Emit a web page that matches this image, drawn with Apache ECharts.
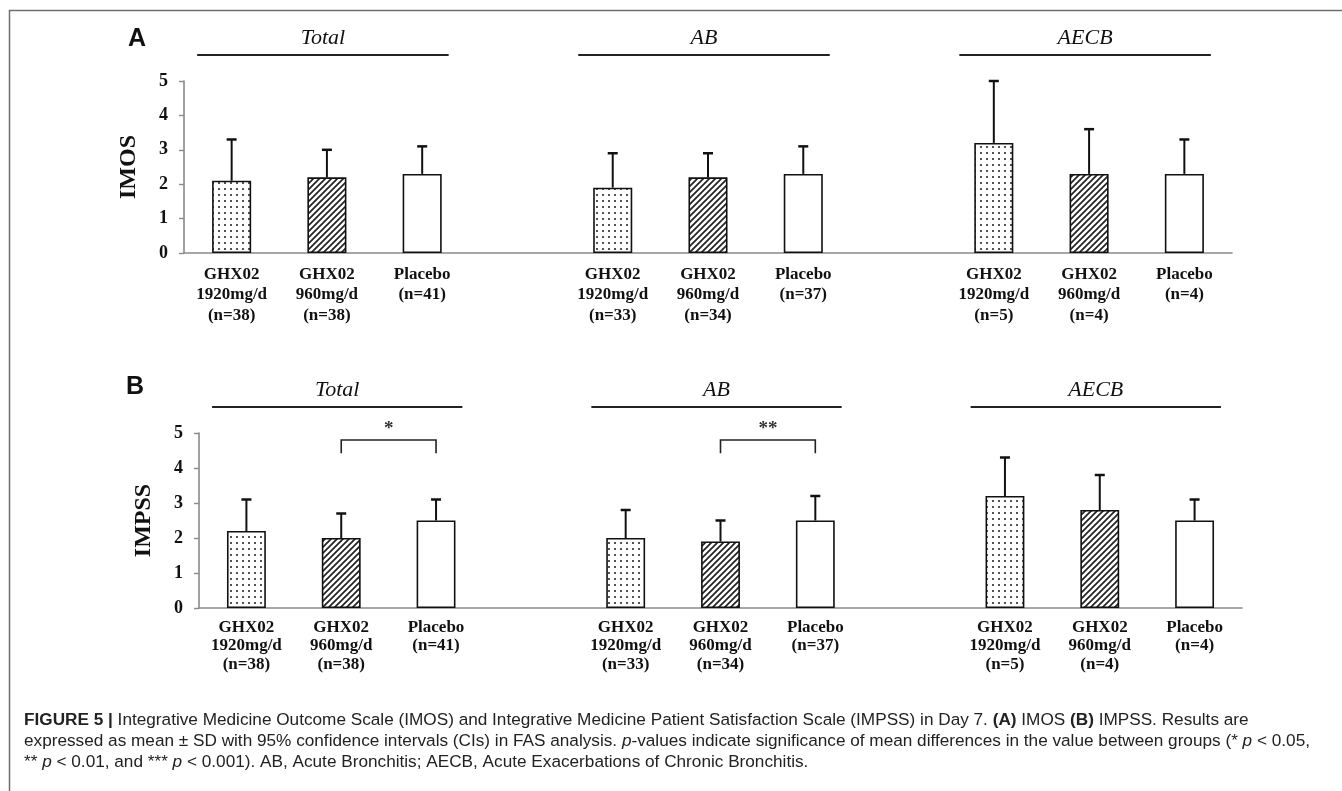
<!DOCTYPE html>
<html>
<head>
<meta charset="utf-8">
<script src="https://cdn.jsdelivr.net/npm/echarts@6/dist/echarts.min.js"></script>
<style>
  html, body { margin: 0; padding: 0; background: #fff; }
  #chart { width: 1342px; height: 791px; }
</style>
</head>
<body>
<div id="chart"></div>
<script>
// groups and arms, in drawing order
const groupNames = ['Total', 'AB', 'AECB']
const armNames = ['GHX02\n1920mg/d', 'GHX02\n960mg/d', 'Placebo']
const groupN = [
  [38, 38, 41],
  [33, 34, 37],
  [5, 4, 4]
]

// mean and SD, ordered Total(1920, 960, placebo), AB(...), AECB(...)
const imosMean = [2.1, 2.2, 2.3, 1.9, 2.2, 2.3, 3.2, 2.3, 2.3]
const imosSD = [1.2, 0.8, 0.8, 1.0, 0.7, 0.8, 1.8, 1.3, 1.0]
const impssMean = [2.2, 2.0, 2.5, 2.0, 1.9, 2.5, 3.2, 2.8, 2.5]
const impssSD = [0.9, 0.7, 0.6, 0.8, 0.6, 0.7, 1.1, 1.0, 0.6]

// significance brackets in panel B: [group, armFrom, armTo, label]
const impssSig = [
  [0, 1, 2, '*'],
  [1, 1, 2, '**']
]

const yTicks = [0, 1, 2, 3, 4, 5]

const SERIF = '"Liberation Serif", "Times New Roman", serif'
const SANS = '"Liberation Sans", Arial, sans-serif'

// each group takes 3 slots plus one empty slot between groups
const slotOf = (g, a) => g * 4 + a
const slotCount = groupNames.length * 4 - 1

function categoryLabels() {
  const out = []
  for (let i = 0; i < slotCount; i++) out.push('')
  groupNames.forEach((_, g) => {
    armNames.forEach((arm, a) => {
      out[slotOf(g, a)] = arm + '\n(n=' + groupN[g][a] + ')'
    })
  })
  return out
}

function makeDots() {
  const c = document.createElement('canvas')
  c.width = 6
  c.height = 6
  const ctx = c.getContext('2d')
  ctx.fillStyle = '#fff'
  ctx.fillRect(0, 0, 6, 6)
  ctx.fillStyle = '#1a1a1a'
  ctx.beginPath()
  ctx.arc(3, 3, 1.0, 0, Math.PI * 2)
  ctx.fill()
  return c
}

function makeHatch() {
  const c = document.createElement('canvas')
  c.width = 6
  c.height = 6
  const ctx = c.getContext('2d')
  ctx.fillStyle = '#fff'
  ctx.fillRect(0, 0, 6, 6)
  ctx.strokeStyle = '#222'
  ctx.lineWidth = 1.7
  ctx.beginPath()
  ctx.moveTo(-1, 7)
  ctx.lineTo(7, -1)
  ctx.moveTo(-1, 1)
  ctx.lineTo(1, -1)
  ctx.moveTo(5, 7)
  ctx.lineTo(7, 5)
  ctx.stroke()
  return c
}

const armFills = [
  { image: makeDots(), repeat: 'repeat' },
  { image: makeHatch(), repeat: 'repeat' },
  '#fff'
]

function barData(means) {
  const out = []
  for (let i = 0; i < slotCount; i++) out.push('-')
  groupNames.forEach((_, g) => {
    armNames.forEach((__, a) => {
      out[slotOf(g, a)] = {
        value: means[g * 3 + a],
        itemStyle: { color: armFills[a] }
      }
    })
  })
  return out
}

function errData(means, sds) {
  const out = []
  groupNames.forEach((_, g) => {
    armNames.forEach((__, a) => {
      const i = g * 3 + a
      out.push([slotOf(g, a), means[i], +(means[i] + sds[i]).toFixed(2)])
    })
  })
  return out
}

function renderErr(params, api) {
  const base = api.coord([api.value(0), api.value(1)])
  const top = api.coord([api.value(0), api.value(2)])
  const cap = 5
  return {
    type: 'group',
    children: [
      { type: 'line', shape: { x1: base[0], y1: base[1], x2: top[0], y2: top[1] }, style: { stroke: '#111', lineWidth: 2 } },
      { type: 'line', shape: { x1: top[0] - cap, y1: top[1], x2: top[0] + cap, y2: top[1] }, style: { stroke: '#111', lineWidth: 2.5 } }
    ]
  }
}

// group header: italic name with a rule under it, above the plot
function renderHeader(params, api) {
  const mid = api.coord([api.value(0), 0])
  const catW = api.size([1, 0])[0]
  const top = params.coordSys.y
  const half = catW * 1.32
  const cx = mid[0] - 4
  return {
    type: 'group',
    children: [
      { type: 'line', shape: { x1: cx - half, y1: top - 26, x2: cx + half, y2: top - 26 }, style: { stroke: '#222', lineWidth: 2 } },
      {
        type: 'text',
        style: {
          text: groupNames[api.value(1)], x: cx, y: top - 43,
          align: 'center', verticalAlign: 'middle',
          font: 'italic 22px ' + SERIF, fill: '#111'
        }
      }
    ]
  }
}

function renderBracket(params, api) {
  const l = api.coord([api.value(0), 4.8])
  const r = api.coord([api.value(1), 4.8])
  const legs = api.coord([api.value(0), 4.42])
  const star = api.coord([api.value(0), 5.1])
  const d = impssSig[params.dataIndex]
  return {
    type: 'group',
    children: [
      {
        type: 'polyline',
        shape: { points: [[l[0], legs[1]], [l[0], l[1]], [r[0], r[1]], [r[0], legs[1]]] },
        style: { stroke: '#222', lineWidth: 1.6, fill: null }
      },
      {
        type: 'text',
        style: {
          text: d[3], x: (l[0] + r[0]) / 2, y: star[1],
          align: 'center', verticalAlign: 'middle',
          font: 'bold 19px ' + SERIF, fill: '#333'
        }
      }
    ]
  }
}

const headerData = groupNames.map((_, g) => [slotOf(g, 1), g])
const bracketData = impssSig.map((s) => [slotOf(s[0], s[1]), slotOf(s[0], s[2])])

function xAxisFor(gridIndex, margin, lineHeight) {
  return {
    type: 'category',
    gridIndex,
    data: categoryLabels(),
    axisLine: { lineStyle: { color: '#8a8a8a', width: 1.6 } },
    axisTick: { interval: 0, length: 5, lineStyle: { color: '#8a8a8a', width: 1.4 } },
    axisLabel: {
      interval: 0,
      margin,
      color: '#111',
      fontFamily: SERIF,
      fontWeight: 'bold',
      fontSize: 17,
      lineHeight
    }
  }
}

function yAxisFor(gridIndex, name) {
  return {
    type: 'value',
    gridIndex,
    min: yTicks[0],
    max: yTicks[yTicks.length - 1],
    interval: 1,
    name,
    nameLocation: 'middle',
    nameGap: 43,
    nameRotate: 90,
    nameTextStyle: { fontFamily: SERIF, fontWeight: 'bold', fontSize: 24, color: '#111' },
    splitLine: { show: false },
    axisLine: { show: true, lineStyle: { color: '#8a8a8a', width: 1.6 } },
    axisTick: { show: true, length: 5, lineStyle: { color: '#8a8a8a', width: 1.4 } },
    axisLabel: { margin: 16, color: '#111', fontFamily: SERIF, fontWeight: 'bold', fontSize: 18 }
  }
}

const CAP_SIZE = 17.2
const captionStyles = {
  b: { fontWeight: 'bold', fontFamily: SANS, fontSize: CAP_SIZE, fill: '#222' },
  i: { fontStyle: 'italic', fontFamily: SANS, fontSize: CAP_SIZE, fill: '#222' }
}

function captionLine(text, y) {
  return {
    type: 'text',
    left: 24,
    top: y,
    style: {
      text,
      font: CAP_SIZE + 'px ' + SANS,
      fill: '#222',
      rich: captionStyles
    }
  }
}

const chartObj = echarts.init(document.getElementById('chart'), null, { renderer: 'canvas' })

const option = {
  backgroundColor: '#fff',
  animation: false,
  grid: [
    { left: 184, top: 81, width: 1048, height: 172 },
    { left: 199, top: 433, width: 1043, height: 175 }
  ],
  xAxis: [xAxisFor(0, 11, 20.5), xAxisFor(1, 10, 18.5)],
  yAxis: [yAxisFor(0, 'IMOS'), yAxisFor(1, 'IMPSS')],
  series: [
    {
      type: 'bar',
      xAxisIndex: 0,
      yAxisIndex: 0,
      barWidth: '41%',
      itemStyle: { borderColor: '#111', borderWidth: 1.6 },
      data: barData(imosMean)
    },
    {
      type: 'bar',
      xAxisIndex: 1,
      yAxisIndex: 1,
      barWidth: '41%',
      itemStyle: { borderColor: '#111', borderWidth: 1.6 },
      data: barData(impssMean)
    },
    { type: 'custom', xAxisIndex: 0, yAxisIndex: 0, renderItem: renderErr, data: errData(imosMean, imosSD), z: 3 },
    { type: 'custom', xAxisIndex: 1, yAxisIndex: 1, renderItem: renderErr, data: errData(impssMean, impssSD), z: 3 },
    { type: 'custom', xAxisIndex: 0, yAxisIndex: 0, renderItem: renderHeader, data: headerData, clip: false },
    { type: 'custom', xAxisIndex: 1, yAxisIndex: 1, renderItem: renderHeader, data: headerData, clip: false },
    { type: 'custom', xAxisIndex: 1, yAxisIndex: 1, renderItem: renderBracket, data: bracketData, clip: false }
  ],
  graphic: [
    // figure frame (open at the right and bottom, cropped)
    {
      type: 'rect',
      shape: { x: 9.5, y: 10.5, width: 1400, height: 900 },
      style: { fill: null, stroke: '#6f6f6f', lineWidth: 1.5 }
    },
    { type: 'text', left: 128, top: 27, style: { text: 'A', font: 'bold 25px ' + SANS, fill: '#111' } },
    { type: 'text', left: 126, top: 375, style: { text: 'B', font: 'bold 25px ' + SANS, fill: '#111' } },
    captionLine('{b|FIGURE 5 |} Integrative Medicine Outcome Scale (IMOS) and Integrative Medicine Patient Satisfaction Scale (IMPSS) in Day 7. {b|(A)} IMOS {b|(B)} IMPSS. Results are', 712),
    captionLine('expressed as mean ± SD with 95% confidence intervals (CIs) in FAS analysis. {i|p}-values indicate significance of mean differences in the value between groups (* {i|p} < 0.05,', 733),
    captionLine('** {i|p} < 0.01, and *** {i|p} < 0.001). AB, Acute Bronchitis; AECB, Acute Exacerbations of Chronic Bronchitis.', 754)
  ]
}

chartObj.setOption(option)
</script>
</body>
</html>
